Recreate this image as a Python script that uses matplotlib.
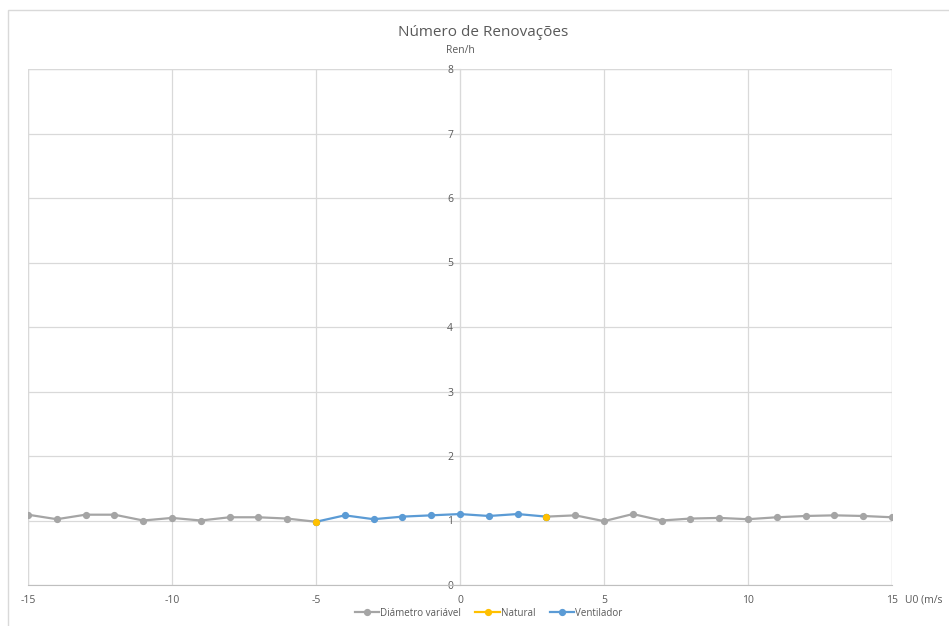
import numpy as np
import matplotlib.pyplot as plt
from matplotlib.patches import Rectangle

plt.rcParams['font.family'] = ['Open Sans', 'DejaVu Sans']
plt.rcParams['axes.unicode_minus'] = False

# velocidade do vento (m/s)
u0 = np.arange(-15, 16)
# renovacoes por hora
ren = [1.09, 1.02, 1.09, 1.09, 1.00, 1.04, 1.00, 1.05, 1.05, 1.03,
       0.98,
       1.08, 1.02, 1.06, 1.08, 1.10, 1.07, 1.10,
       1.06,
       1.08, 0.99, 1.10, 1.00, 1.03, 1.04, 1.02, 1.05, 1.07, 1.08, 1.07, 1.05]
ren = np.array(ren)

# trocos de cada serie
nat_x = [-5, 3]
diam_a = np.where(u0 <= -5, ren, np.nan)
diam_b = np.where(u0 >= 3, ren, np.nan)
vent = np.where((u0 >= -5) & (u0 <= 3), ren, np.nan)
nat = [ren[list(u0).index(v)] for v in nat_x]

cinza = '#A5A5A5'
amarelo = '#FFC000'
azul = '#5B9BD5'
txt = '#595959'
grade = '#D9D9D9'

fig = plt.figure(figsize=(9.49, 6.26), dpi=100)
# moldura do grafico
fig.patches.append(Rectangle((8/949, -0.01), 1.0, 1 - 10/626 + 0.01, transform=fig.transFigure,
                             fill=False, edgecolor='#D9D9D9', linewidth=1))

ax = fig.add_axes([28/949, 41/626, (892-28)/949, (585-69)/626])
ax.set_xlim(-15, 15)
ax.set_ylim(0, 8)

ax.plot(u0, diam_a, '-o', color=cinza, lw=1.6, ms=4.2, zorder=3, label='Diámetro variável')
ax.plot(u0, diam_b, '-o', color=cinza, lw=1.6, ms=4.2, zorder=3)
ax.plot(nat_x, nat, 'o', color=amarelo, ms=4.2, zorder=5)
ax.plot(u0, vent, '-o', color=azul, lw=1.6, ms=4.2, zorder=4)
# so para a legenda
ax.plot([], [], '-o', color=amarelo, lw=1.6, ms=4.2, label='Natural')
ax.plot([], [], '-o', color=azul, lw=1.6, ms=4.2, label='Ventilador')

# eixo y no zero
ax.spines['left'].set_position(('data', 0))
for s in ['top', 'right']:
    ax.spines[s].set_visible(False)
ax.spines['left'].set_color(grade)
ax.spines['bottom'].set_color('#BFBFBF')
ax.set_xticks(range(-15, 16, 5))
ax.set_yticks(range(0, 9))
ax.grid(True, color=grade, lw=0.9, zorder=0)
ax.set_axisbelow(True)
ax.tick_params(axis='y', length=3, color=grade, labelsize=7.5, labelcolor=txt, pad=2)
ax.tick_params(axis='x', length=0, labelsize=7.5, labelcolor=txt, pad=7)
# linhas de borda em x=-15, 15 e y=8
ax.axvline(-15, color=grade, lw=0.9, zorder=0)
ax.axvline(15, color=grade, lw=0.9, zorder=0)
ax.axhline(8, color=grade, lw=0.9, zorder=0)

fig.text(483/949, 1 - 32/626, 'Número de Renovações', ha='center', va='center', fontsize=11, color=txt)
ax.text(0, 8.2, 'Ren/h', ha='center', va='bottom', fontsize=7.5, color=txt)
ax.text(15.45, -0.23, 'U0 (m/s', ha='left', va='center', fontsize=7.5, color=txt)

ax.legend(loc='center', bbox_to_anchor=(0.533, -0.055), ncol=3, frameon=False,
          fontsize=7, labelcolor=txt, handlelength=2.5, handletextpad=0.1,
          columnspacing=1.5, borderpad=0)

fig.savefig('out.png', dpi=100)
